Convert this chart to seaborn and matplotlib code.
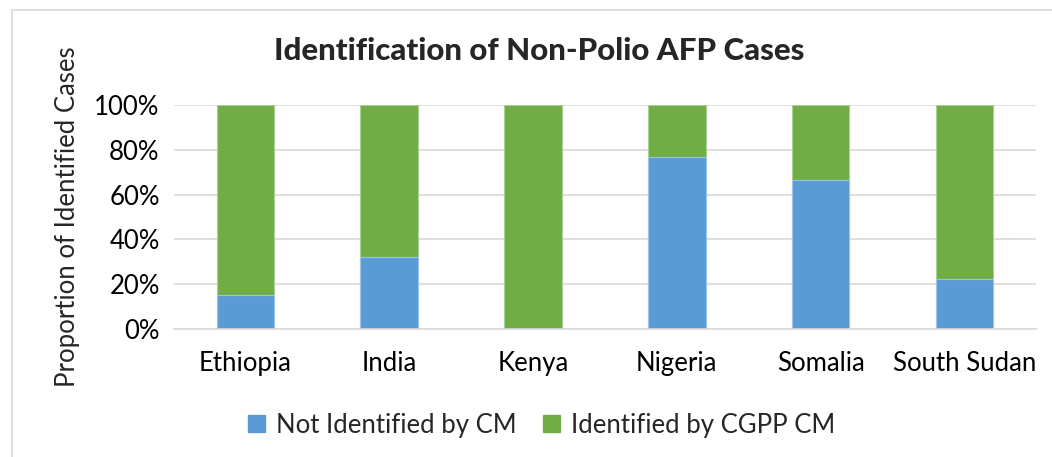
import numpy as np
import pandas as pd
import seaborn as sns
import matplotlib.pyplot as plt
import matplotlib.patches as mpatches
from matplotlib.ticker import PercentFormatter

### Data
countries = ["Ethiopia", "India", "Kenya", "Nigeria", "Somalia", "South Sudan"]
not_identified = [15.4, 32.0, 0.0, 76.7, 66.7, 22.2]
identified_cgpp = [84.6, 68.0, 100.0, 23.3, 33.3, 77.8]

blue = "#5b9bd5"
green = "#70ad47"

df = pd.DataFrame({"country": countries,
                   "not_identified": not_identified,
                   "identified": identified_cgpp})
df["total"] = df["not_identified"] + df["identified"]

sns.set_theme(style="white")
plt.rcParams['font.family'] = ['Lato', 'DejaVu Sans']

fig = plt.figure(figsize=(10.52, 4.57), dpi=100)
ax = fig.add_axes([0.165, 0.28, 0.82, 0.49])

# stacked: green total bar behind, blue on top of it
sns.barplot(data=df, x="country", y="total", color=green, width=0.4,
            saturation=1, ax=ax, edgecolor="#a9d18e", linewidth=0.8)
sns.barplot(data=df, x="country", y="not_identified", color=blue, width=0.4,
            saturation=1, ax=ax, edgecolor="#9dc3e6", linewidth=0.8)

ax.set_ylim(0, 100)
ax.set_yticks(np.arange(0, 101, 20))
ax.yaxis.set_major_formatter(PercentFormatter(decimals=0))
ax.yaxis.grid(True, color="#d9d9d9", linewidth=1.2)
ax.set_axisbelow(True)
for s in ["top", "right", "left"]:
    ax.spines[s].set_visible(False)
ax.spines["bottom"].set_color("#d9d9d9")
ax.spines["bottom"].set_linewidth(1.2)
ax.tick_params(axis="y", labelsize=18.5, colors="black", length=0, pad=10)
ax.tick_params(axis="x", labelsize=18.5, colors="black", length=0, pad=16)
ax.set_xlabel("")
ax.set_ylabel("Proportion of Identified Cases", fontsize=18.5, labelpad=10)

fig.suptitle("Identification of Non-Polio AFP Cases", fontsize=22.5,
             fontweight="black", x=0.513, y=0.92)

handles = [mpatches.Patch(color=blue, label="Not Identified by CM"),
           mpatches.Patch(color=green, label="Identified by CGPP CM")]
fig.legend(handles=handles, loc="center", bbox_to_anchor=(0.515, 0.07),
           ncol=2, frameon=False, fontsize=18.5, handlelength=0.65,
           handleheight=0.65, columnspacing=1.0, handletextpad=0.45)

# chart frame
fig.patches.append(mpatches.Rectangle((0.011, -0.02), 1.0, 0.998,
                                      transform=fig.transFigure,
                                      fill=False, edgecolor="#d9d9d9",
                                      linewidth=1.2))

fig.savefig("out.png", dpi=100)
